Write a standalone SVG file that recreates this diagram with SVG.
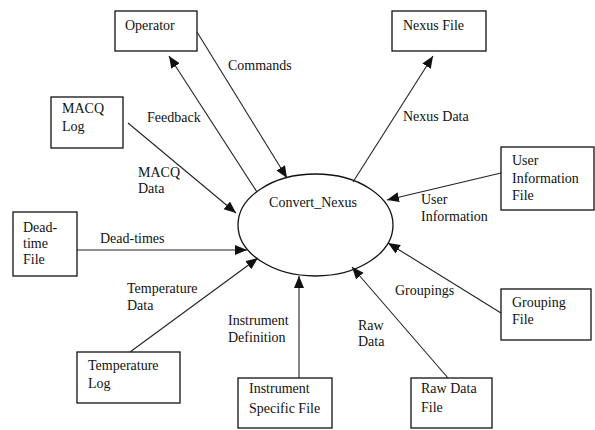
<svg xmlns="http://www.w3.org/2000/svg" width="595" height="430" viewBox="0 0 595 430">
<style>
.box{fill:#fff;stroke:#111;stroke-width:1.3}
.t{font-family:'Liberation Serif','Times New Roman','DejaVu Serif',serif;font-size:14px;fill:#111}
.c{stroke:#222;stroke-width:1.1;fill:none}
</style>
<defs>
<marker id="ah" markerUnits="userSpaceOnUse" markerWidth="14" markerHeight="12" refX="12" refY="5" orient="auto">
<path d="M0,0 L12,5 L0,10 Z" fill="#111"/>
</marker>
</defs>
<rect width="595" height="430" fill="#fff"/>
<g id="convert_nexus">
<ellipse cx="315.5" cy="225" rx="77.5" ry="51" fill="#fff" stroke="#111" stroke-width="1.3"/>
<text class="t" x="313" y="207" text-anchor="middle">Convert_Nexus</text>
</g>
<g id="operator"><rect class="box" x="115" y="11" width="82" height="40"/><text class="t" x="125" y="30">Operator</text></g>
<g id="macq_log"><rect class="box" x="51" y="97" width="72" height="51"/><text class="t" x="62" y="113">MACQ</text><text class="t" x="62" y="131">Log</text></g>
<g id="deadtime_file"><rect class="box" x="13" y="212" width="64" height="64"/><text class="t" x="23" y="232">Dead-</text><text class="t" x="23" y="248">time</text><text class="t" x="23" y="264">File</text></g>
<g id="temperature_log"><rect class="box" x="77" y="352" width="103" height="51"/><text class="t" x="88" y="370">Temperature</text><text class="t" x="88" y="388">Log</text></g>
<g id="instrument_file"><rect class="box" x="238" y="378" width="94" height="50"/><text class="t" x="249" y="393">Instrument</text><text class="t" x="249" y="413">Specific File</text></g>
<g id="raw_data_file"><rect class="box" x="411" y="378" width="81" height="50"/><text class="t" x="421" y="393">Raw Data</text><text class="t" x="421" y="412">File</text></g>
<g id="grouping_file"><rect class="box" x="501" y="289" width="90" height="51"/><text class="t" x="512" y="307">Grouping</text><text class="t" x="512" y="324">File</text></g>
<g id="user_info_file"><rect class="box" x="501" y="147" width="93" height="63"/><text class="t" x="512" y="165">User</text><text class="t" x="512" y="183">Information</text><text class="t" x="512" y="200">File</text></g>
<g id="nexus_file"><rect class="box" x="392" y="11" width="94" height="40"/><text class="t" x="403" y="30">Nexus File</text></g>
<g id="connectors">
<line class="c" x1="197" y1="32" x2="287" y2="178" marker-end="url(#ah)"/>
<line class="c" x1="257" y1="192" x2="169" y2="56" marker-end="url(#ah)"/>
<line class="c" x1="128" y1="123" x2="236" y2="213" marker-end="url(#ah)"/>
<line class="c" x1="77" y1="250" x2="247" y2="250" marker-end="url(#ah)"/>
<line class="c" x1="130" y1="352" x2="258" y2="258" marker-end="url(#ah)"/>
<line class="c" x1="299" y1="378" x2="299" y2="276" marker-end="url(#ah)"/>
<line class="c" x1="448" y1="378" x2="352" y2="267" marker-end="url(#ah)"/>
<line class="c" x1="501" y1="313" x2="388" y2="243" marker-end="url(#ah)"/>
<line class="c" x1="501" y1="173" x2="387" y2="200" marker-end="url(#ah)"/>
<line class="c" x1="353" y1="182" x2="433" y2="56" marker-end="url(#ah)"/>
<text class="t" x="228" y="70">Commands</text>
<text class="t" x="147" y="122">Feedback</text>
<text class="t" x="138" y="177">MACQ</text>
<text class="t" x="138" y="193">Data</text>
<text class="t" x="100" y="243">Dead-times</text>
<text class="t" x="127" y="293">Temperature</text>
<text class="t" x="127" y="310">Data</text>
<text class="t" x="228" y="325">Instrument</text>
<text class="t" x="228" y="342">Definition</text>
<text class="t" x="358" y="330">Raw</text>
<text class="t" x="358" y="346">Data</text>
<text class="t" x="395" y="295">Groupings</text>
<text class="t" x="421" y="204">User</text>
<text class="t" x="421" y="221">Information</text>
<text class="t" x="403" y="121">Nexus Data</text>
</g>
</svg>
